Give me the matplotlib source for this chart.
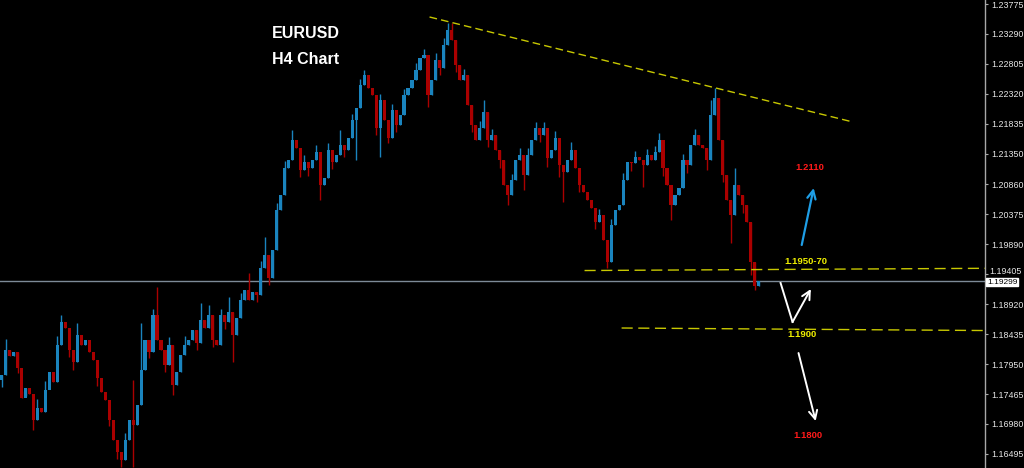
import matplotlib
matplotlib.use("Agg")
import matplotlib.pyplot as plt
import matplotlib.transforms as mtransforms
import numpy as np

# ---------------- data (EURUSD H4 closes) ----------------
first_open = 1.1769
closes = [
    1.1777, 1.1818, 1.1808, 1.1815, 1.1789, 1.1740, 1.1756, 1.1747, 1.1704, 1.1724,
    1.1717, 1.1753, 1.1782, 1.1766, 1.1826, 1.1863, 1.1853, 1.1818, 1.1798, 1.1842,
    1.1826, 1.1834, 1.1815, 1.1802, 1.1772, 1.1750, 1.1737, 1.1704, 1.1672, 1.1653,
    1.1640, 1.1672, 1.1704, 1.1696, 1.1729, 1.1785, 1.1834, 1.1815, 1.1874, 1.1834,
    1.1818, 1.1793, 1.1826, 1.1761, 1.1782, 1.1810, 1.1826, 1.1834, 1.1850, 1.1829,
    1.1866, 1.1853, 1.1874, 1.1834, 1.1826, 1.1874, 1.1863, 1.1879, 1.1842, 1.1870,
    1.1899, 1.1915, 1.1899, 1.1912, 1.1907, 1.1950, 1.1971, 1.1934, 1.1980, 1.2044,
    1.2069, 1.2112, 1.2125, 1.2158, 1.2145, 1.2109, 1.2122, 1.2112, 1.2125, 1.2138,
    1.2085, 1.2096, 1.2141, 1.2122, 1.2133, 1.2149, 1.2141, 1.2161, 1.2190, 1.2209,
    1.2247, 1.2263, 1.2242, 1.2230, 1.2177, 1.2222, 1.2190, 1.2161, 1.2206, 1.2182,
    1.2198, 1.2230, 1.2242, 1.2255, 1.2271, 1.2290, 1.2295, 1.2230, 1.2255, 1.2287,
    1.2274, 1.2311, 1.2336, 1.2319, 1.2279, 1.2255, 1.2263, 1.2214, 1.2182, 1.2158,
    1.2177, 1.2203, 1.2158, 1.2166, 1.2141, 1.2125, 1.2085, 1.2069, 1.2093, 1.2125,
    1.2133, 1.2101, 1.2133, 1.2158, 1.2177, 1.2166, 1.2177, 1.2128, 1.2141, 1.2161,
    1.2117, 1.2106, 1.2125, 1.2141, 1.2112, 1.2085, 1.2073, 1.2060, 1.2048, 1.2025,
    1.2036, 1.1996, 1.1960, 1.2020, 1.2044, 1.2052, 1.2093, 1.2122, 1.2120, 1.2130,
    1.2125, 1.2117, 1.2133, 1.2125, 1.2138, 1.2158, 1.2112, 1.2085, 1.2052, 1.2069,
    1.2080, 1.2125, 1.2117, 1.2149, 1.2166, 1.2149, 1.2145, 1.2125, 1.2198, 1.2225,
    1.2158, 1.2101, 1.2060, 1.2036, 1.2085, 1.2069, 1.2052, 1.2025, 1.1960, 1.1921,
    1.19299,
]
# wick extremes for bars whose shadows stick out visibly
high_spikes = {1: 1.1836, 5: 1.1752, 9: 1.1738, 11: 1.1768, 14: 1.1840, 15: 1.1875,
               19: 1.1862, 22: 1.1828, 26: 1.1748, 31: 1.1684, 33: 1.1769, 35: 1.1861,
               38: 1.1884, 39: 1.1920, 42: 1.1838, 46: 1.1840, 50: 1.1894, 52: 1.1891,
               55: 1.1884, 57: 1.1904, 60: 1.1910, 62: 1.1942, 65: 1.1962, 66: 1.2001,
               69: 1.2055, 71: 1.2124, 73: 1.2174, 76: 1.2134, 79: 1.2150, 82: 1.2152,
               85: 1.2174, 88: 1.2200, 90: 1.2256, 91: 1.2271, 95: 1.2232, 98: 1.2216,
               101: 1.2240, 104: 1.2282, 106: 1.2305, 109: 1.2298, 111: 1.2322,
               112: 1.2347, 113: 1.2347, 116: 1.2272, 120: 1.2188, 121: 1.2222,
               123: 1.2176, 128: 1.2103, 130: 1.2144, 132: 1.2144, 134: 1.2187,
               136: 1.2186, 139: 1.2172, 143: 1.2154, 150: 1.2046, 153: 1.2030,
               156: 1.2104, 159: 1.2140, 162: 1.2143, 164: 1.2148, 165: 1.2169,
               171: 1.2135, 174: 1.2176, 178: 1.2222, 179: 1.2242, 184: 1.2112}
low_spikes = {0: 1.1758, 4: 1.1780, 6: 1.1744, 8: 1.1688, 12: 1.1770, 17: 1.1806,
              18: 1.1785, 24: 1.1760, 27: 1.1694, 29: 1.1642, 30: 1.1628, 33: 1.1628,
              37: 1.1805, 41: 1.1782, 43: 1.1745, 49: 1.1818, 53: 1.1822, 56: 1.1852,
              58: 1.1798, 64: 1.1895, 67: 1.1923, 75: 1.2098, 77: 1.2100, 80: 1.2060,
              83: 1.2110, 86: 1.2130, 89: 1.2125, 94: 1.2165, 95: 1.2130, 97: 1.2153,
              99: 1.2170, 107: 1.2211, 110: 1.2262, 114: 1.2268, 118: 1.2170,
              122: 1.2146, 125: 1.2112, 127: 1.2052, 131: 1.2077, 135: 1.2155,
              137: 1.2114, 140: 1.2098, 141: 1.2057, 145: 1.2074, 149: 1.2014,
              152: 1.1950, 158: 1.2108, 161: 1.2081, 166: 1.2100, 168: 1.2028,
              172: 1.2104, 177: 1.2109, 181: 1.2090, 183: 1.1991, 186: 1.2040,
              188: 1.1939, 189: 1.1915}

tick_labels = ["1.23775", "1.23290", "1.22805", "1.22320", "1.21835", "1.21350",
               "1.20860", "1.20375", "1.19890", "1.19405", "1.18920", "1.18435",
               "1.17950", "1.17465", "1.16980", "1.16495"]
current_price = 1.19299

# drawing objects (bar index, price)
trend_line = [(107.4, 1.23565), (213.4, 1.2187)]
support_line = [(146.3, 1.19463), (247.2, 1.19499)]
lower_line = [(155.6, 1.18533), (247.2, 1.18492)]
blue_arrow = [(200.8, 1.19876), (203.8, 1.20798)]
v_path = [(195.5, 1.19261), (198.5, 1.18630), (203.1, 1.19164)]
down_arrow = [(200.0, 1.18128), (204.3, 1.17028)]
level_texts = [("1.2110", 202.8, 1.21122, "#ff1a1a"),
               ("1.1950-70", 201.9, 1.19601, "#f0f000"),
               ("1.1900", 200.9, 1.18420, "#f0f000"),
               ("1.1800", 202.3, 1.16786, "#ff1a1a")]

# ---------------- figure ----------------
W, H = 1024, 468
fig = plt.figure(figsize=(W / 100, H / 100), dpi=100, facecolor="black")
ax = fig.add_axes([0, 0, 985 / W, 1])
ax.set_facecolor("black")

closes_a = np.array(closes)
opens_a = np.array([first_open] + closes[:-1])
idx = np.arange(len(closes_a))
highs = np.array([high_spikes.get(i, max(o, c)) for i, (o, c) in enumerate(zip(opens_a, closes_a))])
lows = np.array([low_spikes.get(i, min(o, c)) for i, (o, c) in enumerate(zip(opens_a, closes_a))])
BLUE = "#1a84be"
RED = "#aa0000"
cols = [BLUE if c >= o else RED for o, c in zip(opens_a, closes_a)]

ax.vlines(idx, lows, highs, colors=cols, linewidth=1.0, zorder=2)
body_h = np.maximum(np.abs(closes_a - opens_a), 0.00008)
ax.bar(idx, body_h, bottom=np.minimum(opens_a, closes_a), width=0.78,
       color=cols, linewidth=0, zorder=3)

ax.set_xlim(-0.4, 246.8)
ax.set_ylim(1.16268, 1.23840)

# current price line
ax.axhline(current_price, color="#7d8a97", linewidth=1.0, zorder=1)

# yellow dashed lines
YEL = "#c8c800"
ax.plot(*zip(*trend_line), color=YEL, linewidth=1.0, dashes=(5.5, 3.0), zorder=4)
ax.plot(*zip(*support_line), color=YEL, linewidth=1.0, dashes=(8, 4), zorder=4)
ax.plot(*zip(*lower_line), color=YEL, linewidth=1.0, dashes=(8, 4), zorder=4)

# arrows
ax.annotate("", xy=blue_arrow[1], xytext=blue_arrow[0],
            arrowprops=dict(arrowstyle="->,head_length=0.6,head_width=0.3",
                            color="#1e9ee6", lw=1.6, shrinkA=0, shrinkB=0))
ax.plot([v_path[0][0], v_path[1][0]], [v_path[0][1], v_path[1][1]], color="white", lw=1.4)
ax.annotate("", xy=v_path[2], xytext=v_path[1],
            arrowprops=dict(arrowstyle="->,head_length=0.6,head_width=0.3",
                            color="white", lw=1.4, shrinkA=0, shrinkB=0))
ax.annotate("", xy=down_arrow[1], xytext=down_arrow[0],
            arrowprops=dict(arrowstyle="->,head_length=0.6,head_width=0.3",
                            color="white", lw=1.4, shrinkA=0, shrinkB=0))

for txt, x, y, c in level_texts:
    ax.text(x, y, txt, color=c, fontsize=6.8, fontweight="bold",
            family="Liberation Sans", ha="center", va="center")

fig.text(306 / W, 1 - 34 / H, "EURUSD", color="white", fontsize=11.5, fontweight="bold",
         family="Liberation Sans", ha="center", va="center")
fig.text(306 / W, 1 - 60 / H, "H4 Chart", color="white", fontsize=11.5, fontweight="bold",
         family="Liberation Sans", ha="center", va="center")

# axis / ticks on the right
for s in ["top", "left", "bottom"]:
    ax.spines[s].set_visible(False)
ax.spines["right"].set_color("#a8a8a8")
ax.spines["right"].set_linewidth(1.0)
ax.set_xticks([])
ax.yaxis.tick_right()
ax.set_yticks([float(t) for t in tick_labels])
# the label next to the current-price box is drawn separately, nudged up a little
near_label = "1.19405"
ax.set_yticklabels(["" if t == near_label else t for t in tick_labels])
ax.tick_params(axis="y", colors="#a8a8a8", length=2.5, width=0.8, pad=2,
               labelsize=6.4, labelcolor="#e6e6e6")
for lab in ax.get_yticklabels():
    lab.set_family("Liberation Sans")

ytrans = ax.get_yaxis_transform()
ax.text(1.0, float(near_label), near_label,
        transform=mtransforms.offset_copy(ytrans, fig=fig, x=4.5 * 72 / 100, y=2.5 * 72 / 100, units="points"),
        color="#e6e6e6", fontsize=6.4, family="Liberation Sans", ha="left", va="center",
        clip_on=False)

ax.text(1.002, current_price, f"{current_price:.5f}",
        transform=mtransforms.offset_copy(ytrans, fig=fig, y=-1.5 * 72 / 100, units="points"),
        color="black", fontsize=6.0, family="Liberation Sans", ha="left", va="center",
        bbox=dict(boxstyle="square,pad=0.1", facecolor="white", edgecolor="white"),
        zorder=10, clip_on=False)

fig.savefig("out.png", dpi=100, facecolor="black")
